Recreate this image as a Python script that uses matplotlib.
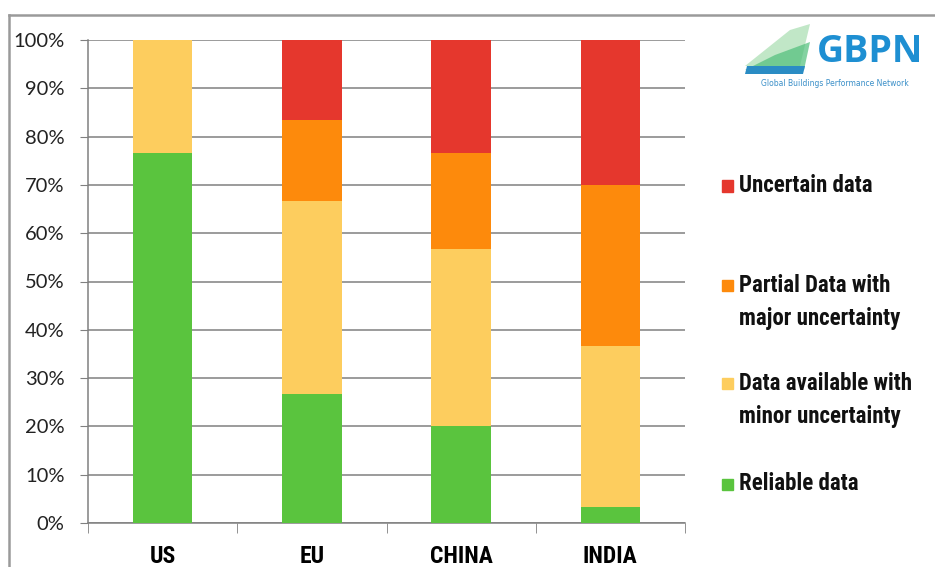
import matplotlib
matplotlib.use('Agg')
import matplotlib.pyplot as plt
from matplotlib.patches import Rectangle, Polygon
from matplotlib.lines import Line2D
from matplotlib import font_manager
import numpy as np

# share of data quality per region (%)
categories = ['US', 'EU', 'CHINA', 'INDIA']
reliable = [76.7, 26.7, 20.0, 3.3]
minor = [23.3, 40.0, 36.7, 33.3]
partial = [0.0, 16.7, 20.0, 33.4]
uncertain = [0.0, 16.6, 23.3, 30.0]
yticks = [0, 10, 20, 30, 40, 50, 60, 70, 80, 90, 100]

green = '#5ac43e'
yellow = '#fdcd5e'
orange = '#fd8a0c'
red = '#e5372d'

# pick a narrow bold face if one is installed
installed = {f.name for f in font_manager.fontManager.ttflist}
cond = 'Roboto'
for name in ['DejaVu Sans Condensed', 'Roboto Condensed', 'Liberation Sans Narrow', 'Open Sans Condensed']:
    if name in installed:
        cond = name
        break

W, H = 935, 567
fig = plt.figure(figsize=(W / 100, H / 100), dpi=100)
fig.patch.set_facecolor('white')


def fx(px):
    return px / W


def fy(py):
    return 1 - py / H


# outer frame
fig.add_artist(Line2D([fx(9), fx(935)], [fy(15), fy(15)], color='#9a9a9a', lw=1.8))
fig.add_artist(Line2D([fx(9), fx(9)], [fy(15), fy(567)], color='#9a9a9a', lw=1.8))

ax = fig.add_axes([fx(88), fy(523), fx(597), 483 / H])
x = np.arange(len(categories))
bottom = np.zeros(len(categories))
for vals, col in zip([reliable, minor, partial, uncertain], [green, yellow, orange, red]):
    ax.bar(x, vals, width=0.4, bottom=bottom, color=col, zorder=3)
    bottom += np.array(vals)

ax.set_xlim(-0.5, 3.5)
ax.set_ylim(0, 100)
ax.set_yticks(yticks)
ax.set_yticklabels([f'{v}%' for v in yticks], fontsize=14.5, family='Lato', color='#222222')
ax.yaxis.grid(True, color='#808080', lw=1.1, zorder=0)
ax.tick_params(axis='y', length=6, color='#808080', pad=11)

ax.set_xticks(x)
ax.set_xticklabels(categories, fontsize=17, fontweight='bold', family=cond)
ax.set_xticks(np.arange(-0.5, 4, 1), minor=True)
ax.tick_params(axis='x', which='major', length=0, pad=15.5)
ax.tick_params(axis='x', which='minor', length=7, color='#808080', direction='out')

for side in ['top', 'right']:
    ax.spines[side].set_visible(False)
for side in ['left', 'bottom']:
    ax.spines[side].set_color('#808080')
    ax.spines[side].set_linewidth(1.1)

# legend drawn at the right side
legend_rows = [
    (red, ['Uncertain data'], 186),
    (orange, ['Partial Data with', 'major uncertainty'], 285),
    (yellow, ['Data available with', 'minor uncertainty'], 383),
    (green, ['Reliable data'], 484),
]
for col, lines, ypix in legend_rows:
    fig.add_artist(Rectangle((fx(722), fy(ypix + 5.5)), fx(11), 11 / H,
                             color=col, transform=fig.transFigure))
    for i, line in enumerate(lines):
        fig.text(fx(739), fy(ypix + i * 33), line, fontsize=16.5, fontweight='bold',
                 family=cond, va='center', ha='left', color='#111111')

# GBPN logo
fig.add_artist(Polygon([[fx(745), fy(66)], [fx(800), fy(66)], [fx(810), fy(24)], [fx(790), fy(30)]],
                       closed=True, color='#8fd49a', alpha=0.55, transform=fig.transFigure, lw=0))
fig.add_artist(Polygon([[fx(745), fy(70)], [fx(804), fy(70)], [fx(810), fy(42)], [fx(775), fy(55)]],
                       closed=True, color='#4fbf7a', alpha=0.7, transform=fig.transFigure, lw=0))
fig.add_artist(Polygon([[fx(745), fy(74)], [fx(803), fy(74)], [fx(805), fy(66)], [fx(747), fy(66)]],
                       closed=True, color='#2a8cc4', transform=fig.transFigure, lw=0))
fig.text(fx(817), fy(52), 'GBPN', fontsize=27, fontweight='bold', family='Open Sans',
         color='#1e8fd2', va='center', ha='left')
fig.text(fx(835), fy(84), 'Global Buildings Performance Network', fontsize=5.5,
         family='DejaVu Sans', color='#3a8fc8', va='center', ha='center')

fig.savefig('out.png', dpi=100, facecolor='white')
